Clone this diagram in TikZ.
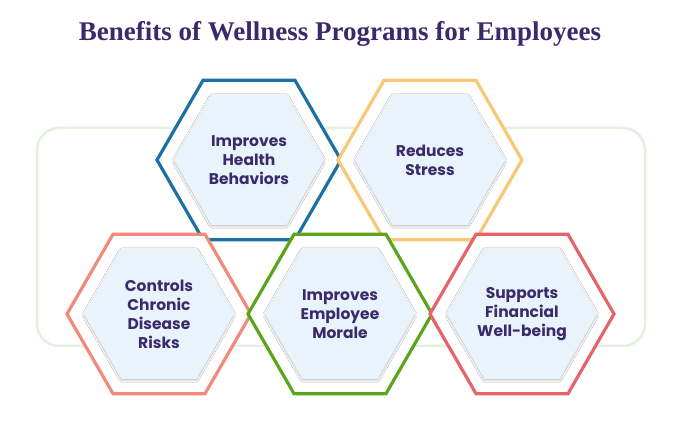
\documentclass[tikz,border=0pt]{standalone}
\usepackage{fontspec}
\setmainfont{Poppins}
\newfontfamily\titlefont{Liberation Serif}
\usetikzlibrary{shapes.geometric,shadows.blur}
\definecolor{ink}{HTML}{3B2A6B}
\definecolor{cblue}{HTML}{1F6FA3}
\definecolor{cyellow}{HTML}{F9C874}
\definecolor{csalmon}{HTML}{F28A7C}
\definecolor{cgreen}{HTML}{5AA51A}
\definecolor{cred}{HTML}{E5636B}
\definecolor{inner}{HTML}{E8F3FB}
\definecolor{frame}{HTML}{E4F1E0}
\tikzset{
 outerhex/.style={regular polygon,regular polygon sides=6,minimum size=184pt,inner sep=0pt,line width=3.2pt,fill=white},
 innerhex/.style={regular polygon,regular polygon sides=6,minimum size=150pt,inner sep=0pt,fill=inner,blur shadow={shadow blur steps=8,shadow xshift=0pt,shadow yshift=-1pt,shadow opacity=30}},
 lbl/.style={text=ink,font=\fontsize{15.5}{19}\selectfont\bfseries,align=center}
}
\begin{document}
\begin{tikzpicture}[x=1pt,y=-1pt]
\useasboundingbox (0,0) rectangle (681,427);
\node[text=ink,font=\titlefont\fontsize{27}{30}\selectfont\bfseries] (title) at (340,34) {Benefits of Wellness Programs for Employees};
\draw[frame,line width=2.5pt,rounded corners=22pt] (37,128) rectangle (645,346);
\foreach \n/\x/\y/\c/\t in {a/249/160/cblue/{Improves\\Health\\Behaviors},b/430/160/cyellow/{Reduces\\Stress},c/159/314/csalmon/{Controls\\Chronic\\Disease\\Risks},d/340/314/cgreen/{Improves\\Employee\\Morale},e/522/314/cred/{Supports\\Financial\\Well-being}}{
 \node[outerhex,draw=\c] (o\n) at (\x,\y) {};
 \node[innerhex] (i\n) at (\x,\y) {};
 \node[lbl] (t\n) at (\x,\y) {\t};
}
\end{tikzpicture}
\end{document}
